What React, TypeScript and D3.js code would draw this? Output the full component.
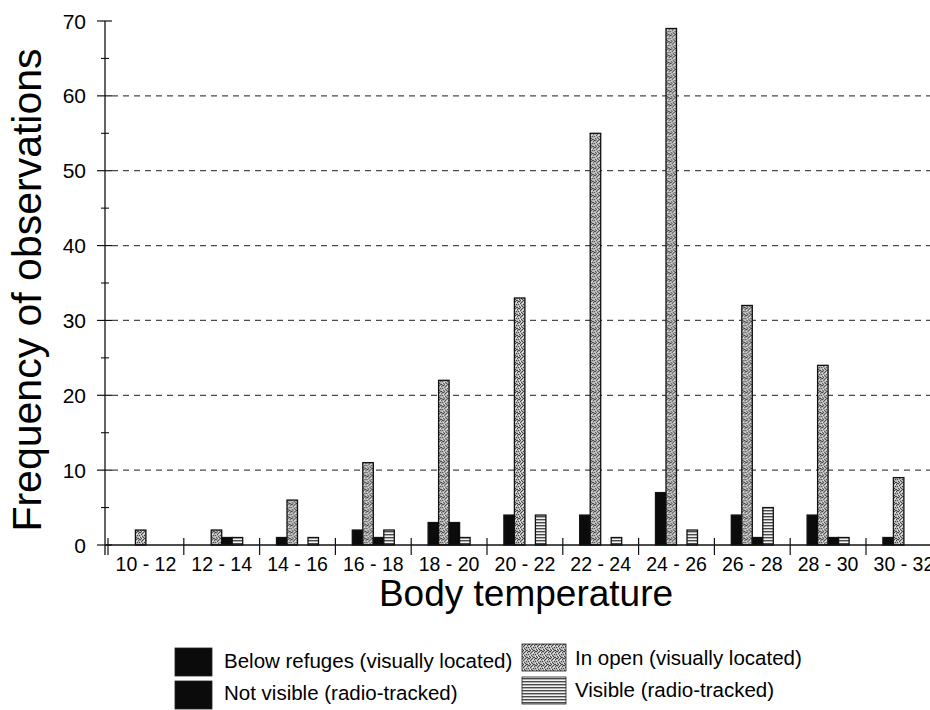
import React from 'react';
import * as d3 from 'd3';

const categories = ['10 - 12', '12 - 14', '14 - 16', '16 - 18', '18 - 20', '20 - 22', '22 - 24', '24 - 26', '26 - 28', '28 - 30', '30 - 32'];
const belowRefuges = [0, 0, 1, 2, 3, 4, 4, 7, 4, 4, 1];
const inOpen = [2, 2, 6, 11, 22, 33, 55, 69, 32, 24, 9];
const notVisible = [0, 1, 0, 1, 3, 0, 0, 0, 1, 1, 0];
const visible = [0, 1, 1, 2, 1, 4, 1, 2, 5, 1, 0];
const yTicks = [0, 10, 20, 30, 40, 50, 60, 70];
const yMinorTicks = [5, 15, 25, 35, 45, 55, 65];
const gridTicks = [10, 20, 30, 40, 50, 60];

const seriesKeys = ['below', 'open', 'notvis', 'vis'];
const seriesLabels = ['Below refuges (visually located)', 'In open (visually located)', 'Not visible (radio-tracked)', 'Visible (radio-tracked)'];
const seriesValues = [belowRefuges, inOpen, notVisible, visible];
const seriesFills = ['#0b0b0b', 'url(#stipple)', '#0b0b0b', 'url(#stripes)'];

const FONT = '"Liberation Sans", Arial, Helvetica, sans-serif';

const stippleDots: [number, number][] = [
  [0, 0], [4, 0], [2, 1], [6, 1], [5, 2], [1, 3], [3, 3], [6, 4], [0, 5], [4, 5], [2, 6], [5, 6], [3, 0], [1, 6],
];
const stippleLight: [number, number][] = [
  [1, 1], [5, 4], [3, 5], [0, 2], [6, 6], [4, 2],
];

export default function App() {
  const W = 930;
  const H = 710;
  const x0 = 108;
  const groupW = 75.8;
  const x = d3
    .scaleBand<string>()
    .domain(categories)
    .range([x0, x0 + groupW * categories.length])
    .paddingInner(0)
    .paddingOuter(0);
  const xi = d3
    .scaleBand<string>()
    .domain(seriesKeys)
    .range([0, x.bandwidth()])
    .paddingInner(0)
    .paddingOuter(1.61);
  const y = d3.scaleLinear().domain([0, 70]).range([545, 21]);
  const axisX = 105;
  const baseY = y(0);

  const legendItems = [
    { i: 0, sx: 175, sy: 648, sw: 37, sh: 28, tx: 224, ty: 668 },
    { i: 1, sx: 522, sy: 644, sw: 44, sh: 27, tx: 575, ty: 665 },
    { i: 2, sx: 175, sy: 681, sw: 37, sh: 28, tx: 224, ty: 700 },
    { i: 3, sx: 522, sy: 677, sw: 44, sh: 27, tx: 575, ty: 697 },
  ];

  return (
    <svg
      width={W}
      height={H}
      viewBox={`0 0 ${W} ${H}`}
      style={{ position: 'absolute', left: 0, top: 0, background: '#fff' }}
      fontFamily={FONT}
    >
      <defs>
        <pattern id="stipple" width={7} height={7} patternUnits="userSpaceOnUse">
          <rect width={7} height={7} fill="#b4b4b4" />
          {stippleDots.map(([px, py], k) => (
            <rect key={k} x={px} y={py} width={1} height={1} fill="#444" />
          ))}
          {stippleLight.map(([px, py], k) => (
            <rect key={`l${k}`} x={px} y={py} width={1} height={1} fill="#eee" />
          ))}
        </pattern>
        <pattern id="stripes" width={4} height={3} patternUnits="userSpaceOnUse">
          <rect width={4} height={3} fill="#f2f2f2" />
          <rect y={0} width={4} height={1.4} fill="#4a4a4a" />
        </pattern>
      </defs>
      <rect width={W} height={H} fill="#fff" />

      {/* gridlines */}
      {gridTicks.map((t) => (
        <line
          key={`g${t}`}
          x1={axisX + 7}
          x2={W}
          y1={y(t)}
          y2={y(t)}
          stroke="#4a4a4a"
          strokeWidth={1.2}
          strokeDasharray="6 5"
        />
      ))}

      {/* bars */}
      {categories.map((c, ci) => (
        <g key={c} transform={`translate(${x(c)},0)`}>
          {seriesKeys.map((k, si) => {
            const v = seriesValues[si][ci];
            if (!v) return null;
            return (
              <rect
                key={k}
                x={xi(k)}
                y={y(v)}
                width={xi.bandwidth()}
                height={baseY - y(v)}
                fill={seriesFills[si]}
                stroke="#111"
                strokeWidth={1.3}
              />
            );
          })}
        </g>
      ))}

      {/* x axis */}
      <line x1={axisX} x2={W} y1={baseY} y2={baseY} stroke="#111" strokeWidth={1.4} />
      {categories.map((c) => (
        <line key={`xt${c}`} x1={x(c)} x2={x(c)} y1={baseY - 7} y2={baseY + 10} stroke="#111" strokeWidth={1.2} />
      ))}
      {categories.map((c) => (
        <text
          key={`xl${c}`}
          x={(x(c) as number) + x.bandwidth() / 2}
          y={571}
          textAnchor="middle"
          fontSize={19.5}
          fill="#000"
        >
          {c}
        </text>
      ))}

      {/* y axis */}
      <line x1={axisX} x2={axisX} y1={y(70)} y2={baseY + 10} stroke="#111" strokeWidth={1.3} />
      {yTicks.map((t) => (
        <line key={`yt${t}`} x1={axisX - 8} x2={axisX + 7} y1={y(t)} y2={y(t)} stroke="#111" strokeWidth={1.2} />
      ))}
      {yMinorTicks.map((t) => (
        <line key={`ym${t}`} x1={axisX - 4} x2={axisX + 4} y1={y(t)} y2={y(t)} stroke="#111" strokeWidth={1.1} />
      ))}
      {yTicks.map((t) => (
        <text key={`yl${t}`} x={86} y={y(t) + 7.5} textAnchor="end" fontSize={21} fill="#000">
          {t}
        </text>
      ))}

      {/* axis titles */}
      <text
        transform={`translate(41,290) rotate(-90)`}
        textAnchor="middle"
        fontSize={41}
        fill="#000"
      >
        Frequency of observations
      </text>
      <text x={526} y={606} textAnchor="middle" fontSize={37} fill="#000">
        Body temperature
      </text>

      {/* legend */}
      {legendItems.map((it) => (
        <g key={`lg${it.i}`}>
          <rect x={it.sx} y={it.sy} width={it.sw} height={it.sh} fill={seriesFills[it.i]} stroke="#222" strokeWidth={0.8} />
          <text x={it.tx} y={it.ty} fontSize={20.5} fill="#000">
            {seriesLabels[it.i]}
          </text>
        </g>
      ))}
    </svg>
  );
}
